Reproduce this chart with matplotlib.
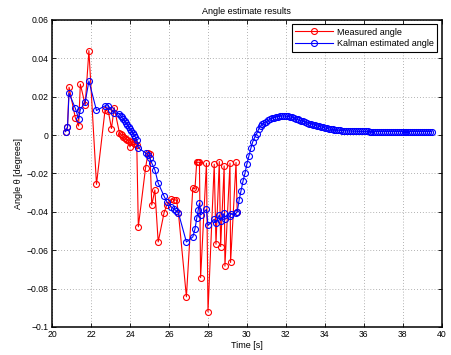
import numpy as np
import matplotlib
matplotlib.use("Agg")
import matplotlib.pyplot as plt

# ---- data ----
t_meas = [20.68, 20.78, 20.86, 21.18, 21.35, 21.44, 21.69, 21.88, 22.27, 22.71,
          22.88, 23.04, 23.18,
          23.45, 23.52, 23.58, 23.65, 23.72, 23.79, 23.86, 23.92, 23.99, 24.06,
          24.13, 24.20, 24.27, 24.34,
          24.42, 24.79, 24.92, 25.02, 25.11, 25.27, 25.44, 25.74,
          25.88, 26.12, 26.25, 26.38, 26.48, 26.89, 27.22, 27.33, 27.42, 27.50,
          27.56, 27.62, 27.92, 28.00, 28.32, 28.41, 28.58, 28.65, 28.83, 28.87,
          29.13, 29.16, 29.44, 29.50]
measured = [0.0018, 0.0041, 0.0249, 0.0091, 0.0047, 0.0265, 0.0157, 0.0440, -0.0257, 0.0131,
            0.0123, 0.0034, 0.0143,
            0.0011, 0.0003, -0.0002, -0.0008, -0.0014, -0.0020, -0.0026, -0.0031, -0.0062, -0.0036,
            -0.0031, -0.0041, -0.0047, -0.0052,
            -0.0478, -0.0172, -0.0093, -0.0099, -0.0365, -0.0286, -0.0557, -0.0406,
            -0.0365, -0.0333, -0.0338, -0.0338, -0.0406, -0.0843, -0.0276, -0.0281, -0.0142, -0.0142,
            -0.0142, -0.0743, -0.0147, -0.0921, -0.0152, -0.0569, -0.0138, -0.0581, -0.0161, -0.0683,
            -0.0146, -0.0664, -0.0143, -0.0401]
kalman_head = [0.0018, 0.0041, 0.0217, 0.0140, 0.0086, 0.0133, 0.0172, 0.0282, 0.0128, 0.0152,
               0.0152, 0.0131, 0.0115,
               0.0112, 0.0100, 0.0092, 0.0083, 0.0073, 0.0063, 0.0053, 0.0043, 0.0033, 0.0022,
               0.0012, 0.0001, -0.0012, -0.0025,
               -0.0067, -0.0093, -0.0104, -0.0120, -0.0146, -0.0182, -0.0250, -0.0318,
               -0.0347, -0.0375, -0.0385, -0.0396, -0.0406, -0.0557, -0.0531, -0.0490, -0.0434, -0.0391,
               -0.0356, -0.0417, -0.0388, -0.0471, -0.0439, -0.0457, -0.0417, -0.0446, -0.0408, -0.0439,
               -0.0422, -0.0413, -0.0408, -0.0400]
t_tail = np.round(np.arange(29.6, 39.55, 0.1), 2)
kalman_tail = [-0.0338, -0.0290, -0.0240, -0.0199, -0.0150, -0.0110, -0.0070, -0.0035, -0.0012, 0.0007,
               0.0030, 0.0046, 0.0057, 0.0064, 0.0070, 0.0076, 0.0083, 0.0087, 0.0091, 0.0094,
               0.0096, 0.0098, 0.0099, 0.0099, 0.0098, 0.0097, 0.0095, 0.0092, 0.0089, 0.0085,
               0.0081, 0.0077, 0.0074, 0.0071, 0.0067, 0.0063, 0.0060, 0.0057, 0.0054, 0.0051,
               0.0048, 0.0045, 0.0043, 0.0040, 0.0037, 0.0035, 0.0032, 0.0030, 0.0029, 0.0027,
               0.0026, 0.0025, 0.0024, 0.0023, 0.0022, 0.0022, 0.0021, 0.0021, 0.0020, 0.0020,
               0.0020, 0.0019, 0.0019, 0.0019, 0.0019, 0.0019, 0.0019, 0.0018, 0.0018, 0.0018,
               0.0018, 0.0018, 0.0018, 0.0018, 0.0018, 0.0018, 0.0018, 0.0018, 0.0018, 0.0018,
               0.0018, 0.0018, 0.0018, 0.0018, 0.0018, 0.0018, 0.0018, 0.0018, 0.0018, 0.0018,
               0.0018, 0.0018, 0.0018, 0.0018, 0.0018, 0.0018, 0.0018, 0.0018, 0.0018, 0.0018]

x_ticks = [20, 22, 24, 26, 28, 30, 32, 34, 36, 38, 40]
y_ticks = [0.06, 0.04, 0.02, 0, -0.02, -0.04, -0.06, -0.08, -0.1]
y_tick_labels = ["0.06", "0.04", "0.02", "0", "\u22120.02", "\u22120.04", "\u22120.06", "\u22120.08", "\u22120.1"]
series_names = ["Measured angle", "Kalman estimated angle"]

t_kal = list(t_meas) + list(t_tail)
kalman = list(kalman_head) + list(kalman_tail[:len(t_tail)])

# ---- plot ----
plt.rcParams['font.family'] = ['Liberation Sans', 'DejaVu Sans']
fig = plt.figure(figsize=(4.51, 3.55), dpi=100)
ax = fig.add_axes([0.116, 0.079, 0.863, 0.865])

ax.plot(t_meas, measured, color=(1, 0, 0), lw=0.8, marker='o', ms=4.3,
        mfc='none', mec=(1, 0, 0), mew=0.8, label=series_names[0])
ax.plot(t_kal, kalman, color=(0, 0, 1), lw=0.8, marker='o', ms=4.3,
        mfc='none', mec=(0, 0, 1), mew=0.8, label=series_names[1])

ax.set_xlim(20, 40)
ax.set_ylim(-0.1, 0.06)
ax.set_xticks(x_ticks)
ax.set_xticklabels([str(v) for v in x_ticks])
ax.set_yticks(y_ticks)
ax.set_yticklabels(y_tick_labels)
ax.tick_params(direction='in', length=3, width=0.6, labelsize=6.2,
               top=True, right=True, pad=2.5)
ax.grid(True, linestyle=(0, (1, 2.5)), color='#999999', linewidth=0.6)
for sp in ax.spines.values():
    sp.set_linewidth(1.1)
    sp.set_color('black')

ax.set_title("Angle estimate results", fontsize=6.5, pad=4)
ax.set_xlabel("Time [s]", fontsize=6.5, labelpad=1)
ax.set_ylabel("Angle \u03b8 [degrees]", fontsize=6.5, labelpad=3)

leg = ax.legend(loc='upper right', fontsize=6.5, numpoints=1, fancybox=False,
                framealpha=1, edgecolor='black', borderaxespad=0.45,
                handlelength=4.2, handletextpad=0.4, borderpad=0.4,
                labelspacing=0.3)
leg.get_frame().set_linewidth(0.8)

fig.savefig("out.png", dpi=100)
